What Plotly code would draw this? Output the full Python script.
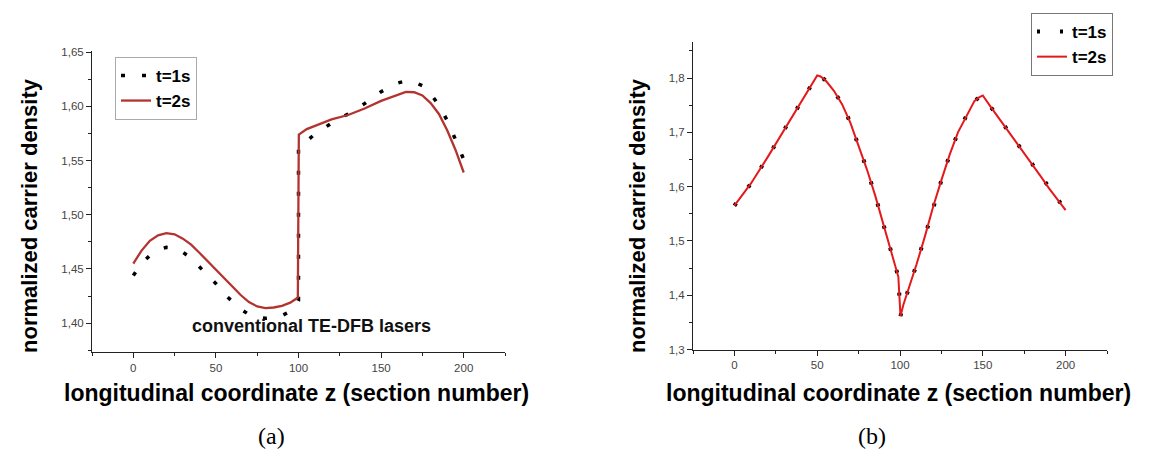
import plotly.graph_objects as go

# ---------------- Panel (a): conventional TE-DFB lasers ----------------
a_z_t1 = [0, 5, 10, 15, 20, 25, 30, 35, 40, 45, 50, 55, 60, 65, 70, 75, 80, 85, 90, 95, 98, 100,
          100, 105, 110, 120, 130, 140, 150, 160, 165, 170, 175, 180, 185, 190, 195, 200]
a_n_t1 = [1.444, 1.455, 1.4625, 1.4675, 1.470, 1.4695, 1.4655, 1.460, 1.452, 1.4445, 1.4365, 1.427,
          1.4195, 1.413, 1.408, 1.4055, 1.4045, 1.405, 1.407, 1.411, 1.416, 1.421,
          1.563, 1.568, 1.5745, 1.5845, 1.593, 1.6025, 1.6135, 1.6215, 1.6235, 1.6225, 1.619,
          1.6115, 1.601, 1.587, 1.5695, 1.551]

a_z_t2 = [0, 5, 10, 15, 20, 25, 30, 35, 40, 45, 50, 55, 60, 65, 70, 75, 80, 85, 90, 95, 99, 99.6,
          100.2, 105, 110, 120, 130, 140, 150, 160, 165, 170, 175, 180, 185, 190, 195, 200]
a_n_t2 = [1.455, 1.467, 1.476, 1.481, 1.483, 1.482, 1.478, 1.4725, 1.465, 1.457, 1.449, 1.441,
          1.433, 1.426, 1.4195, 1.4155, 1.414, 1.4145, 1.416, 1.419, 1.423, 1.424,
          1.574, 1.579, 1.582, 1.588, 1.592, 1.598, 1.605, 1.611, 1.6134, 1.613, 1.610,
          1.603, 1.593, 1.578, 1.560, 1.539]

# ---------------- Panel (b) ----------------
b_z = [0, 10, 20, 30, 40, 48, 50, 52, 55, 60, 65, 70, 75, 80, 85, 90, 95, 99, 99.6, 100.3,
       102, 105, 110, 115, 120, 125, 130, 135, 140, 145, 148, 150, 155, 160, 165, 170, 175,
       180, 185, 190, 195, 200]
b_n_t1 = [1.565, 1.606, 1.654, 1.705, 1.755, 1.796, 1.805, 1.803, 1.796, 1.777, 1.752, 1.718,
          1.676, 1.632, 1.584, 1.530, 1.479, 1.434, 1.400, 1.362,
          1.382, 1.409, 1.457, 1.508, 1.563, 1.612, 1.659, 1.700, 1.730, 1.758, 1.765, 1.768,
          1.746, 1.725, 1.705, 1.684, 1.663, 1.641, 1.619, 1.597, 1.576, 1.557]
b_n_t2 = [1.565, 1.606, 1.654, 1.705, 1.755, 1.796, 1.805, 1.803, 1.796, 1.777, 1.752, 1.718,
          1.676, 1.632, 1.584, 1.530, 1.479, 1.434, 1.400, 1.362,
          1.382, 1.409, 1.457, 1.508, 1.563, 1.612, 1.659, 1.700, 1.730, 1.758, 1.765, 1.768,
          1.746, 1.725, 1.705, 1.684, 1.663, 1.641, 1.619, 1.597, 1.576, 1.557]

x_ticks = [0, 50, 100, 150, 200]
a_y_ticks = [1.40, 1.45, 1.50, 1.55, 1.60, 1.65]
b_y_ticks = [1.3, 1.4, 1.5, 1.6, 1.7, 1.8]

W, H = 1149, 450
FONT = "Liberation Sans, Arial, sans-serif"


def px_x(p):
    return p / W


def px_y(p):
    return (H - p) / H


fig = go.Figure()

fig.add_trace(go.Scatter(x=a_z_t1, y=a_n_t1, mode="lines", name="t=1s",
                         line=dict(color="black", width=3.5, dash="4px,17px"),
                         xaxis="x", yaxis="y", legend="legend"))
fig.add_trace(go.Scatter(x=a_z_t2, y=a_n_t2, mode="lines", name="t=2s",
                         line=dict(color="#b3342f", width=2.3),
                         xaxis="x", yaxis="y", legend="legend"))
fig.add_trace(go.Scatter(x=b_z, y=b_n_t1, mode="lines", name="t=1s",
                         line=dict(color="black", width=4, dash="3px,20px"),
                         xaxis="x2", yaxis="y2", legend="legend2"))
fig.add_trace(go.Scatter(x=b_z, y=b_n_t2, mode="lines", name="t=2s",
                         line=dict(color="#e3191c", width=2),
                         xaxis="x2", yaxis="y2", legend="legend2"))

axis_common = dict(showline=True, linecolor="#222", linewidth=1, ticks="outside",
                   ticklen=5, tickcolor="#222", tickwidth=1, showgrid=False,
                   zeroline=False, tickfont=dict(family=FONT, size=11.5, color="#444"))

fig.update_layout(
    width=W, height=H,
    margin=dict(l=0, r=0, t=0, b=0),
    paper_bgcolor="white", plot_bgcolor="white",
    separators=",.",
    font=dict(family=FONT),
    xaxis=dict(domain=[px_x(84), px_x(497)], range=[-25, 225], anchor="y",
               tickvals=x_ticks, minor=dict(dtick=25, tick0=0, ticklen=3, ticks="outside",
                                            tickcolor="#222"),
               **axis_common),
    yaxis=dict(domain=[px_y(348), px_y(39)], range=[1.373, 1.651], anchor="x",
               tickvals=a_y_ticks, tickformat=".2f",
               minor=dict(dtick=0.025, tick0=1.4, ticklen=3, ticks="outside", tickcolor="#222"),
               **axis_common),
    xaxis2=dict(domain=[px_x(685), px_x(1099)], range=[-25, 225], anchor="y2",
                tickvals=x_ticks, minor=dict(dtick=25, tick0=0, ticklen=3, ticks="outside",
                                             tickcolor="#222"),
                **axis_common),
    yaxis2=dict(domain=[px_y(345), px_y(30)], range=[1.3, 1.866], anchor="x2",
                tickvals=b_y_ticks, tickformat=".1f",
                minor=dict(dtick=0.05, tick0=1.3, ticklen=3, ticks="outside", tickcolor="#222"),
                **axis_common),
    legend=dict(x=px_x(107), y=px_y(45), xanchor="left", yanchor="top",
                bordercolor="#aaa", borderwidth=1, bgcolor="white",
                font=dict(family=FONT, size=17, color="black", weight="bold"),
                tracegroupgap=0, itemwidth=30),
    legend2=dict(x=px_x(1023), y=px_y(0), xanchor="left", yanchor="top",
                 bordercolor="#777", borderwidth=1, bgcolor="white",
                 font=dict(family=FONT, size=17, color="black", weight="bold"),
                 tracegroupgap=0, itemwidth=30),
    showlegend=True,
)

xt_font = dict(family=FONT, size=23, color="black", weight="bold")
yt_font = dict(family=FONT, size=22, color="black", weight="bold")
ann = [
    dict(text="normalized carrier density", x=px_x(22), y=px_y(208), textangle=-90,
         font=yt_font),
    dict(text="longitudinal coordinate z (section number)", x=px_x(288), y=px_y(390),
         font=xt_font),
    dict(text="normalized carrier density", x=px_x(630), y=px_y(208), textangle=-90,
         font=yt_font),
    dict(text="longitudinal coordinate z (section number)", x=px_x(890), y=px_y(390),
         font=xt_font),
    dict(text="conventional TE-DFB lasers", x=px_x(303), y=px_y(321),
         font=dict(family=FONT, size=18, color="#111", weight="bold")),
    dict(text="(a)", x=px_x(263), y=px_y(434),
         font=dict(family="Liberation Serif, Times New Roman, serif", size=24, color="black")),
    dict(text="(b)", x=px_x(864), y=px_y(434),
         font=dict(family="Liberation Serif, Times New Roman, serif", size=24, color="black")),
]
for a in ann:
    fig.add_annotation(xref="paper", yref="paper", showarrow=False,
                       xanchor="center", yanchor="middle", **a)

fig.write_html("out.html")
